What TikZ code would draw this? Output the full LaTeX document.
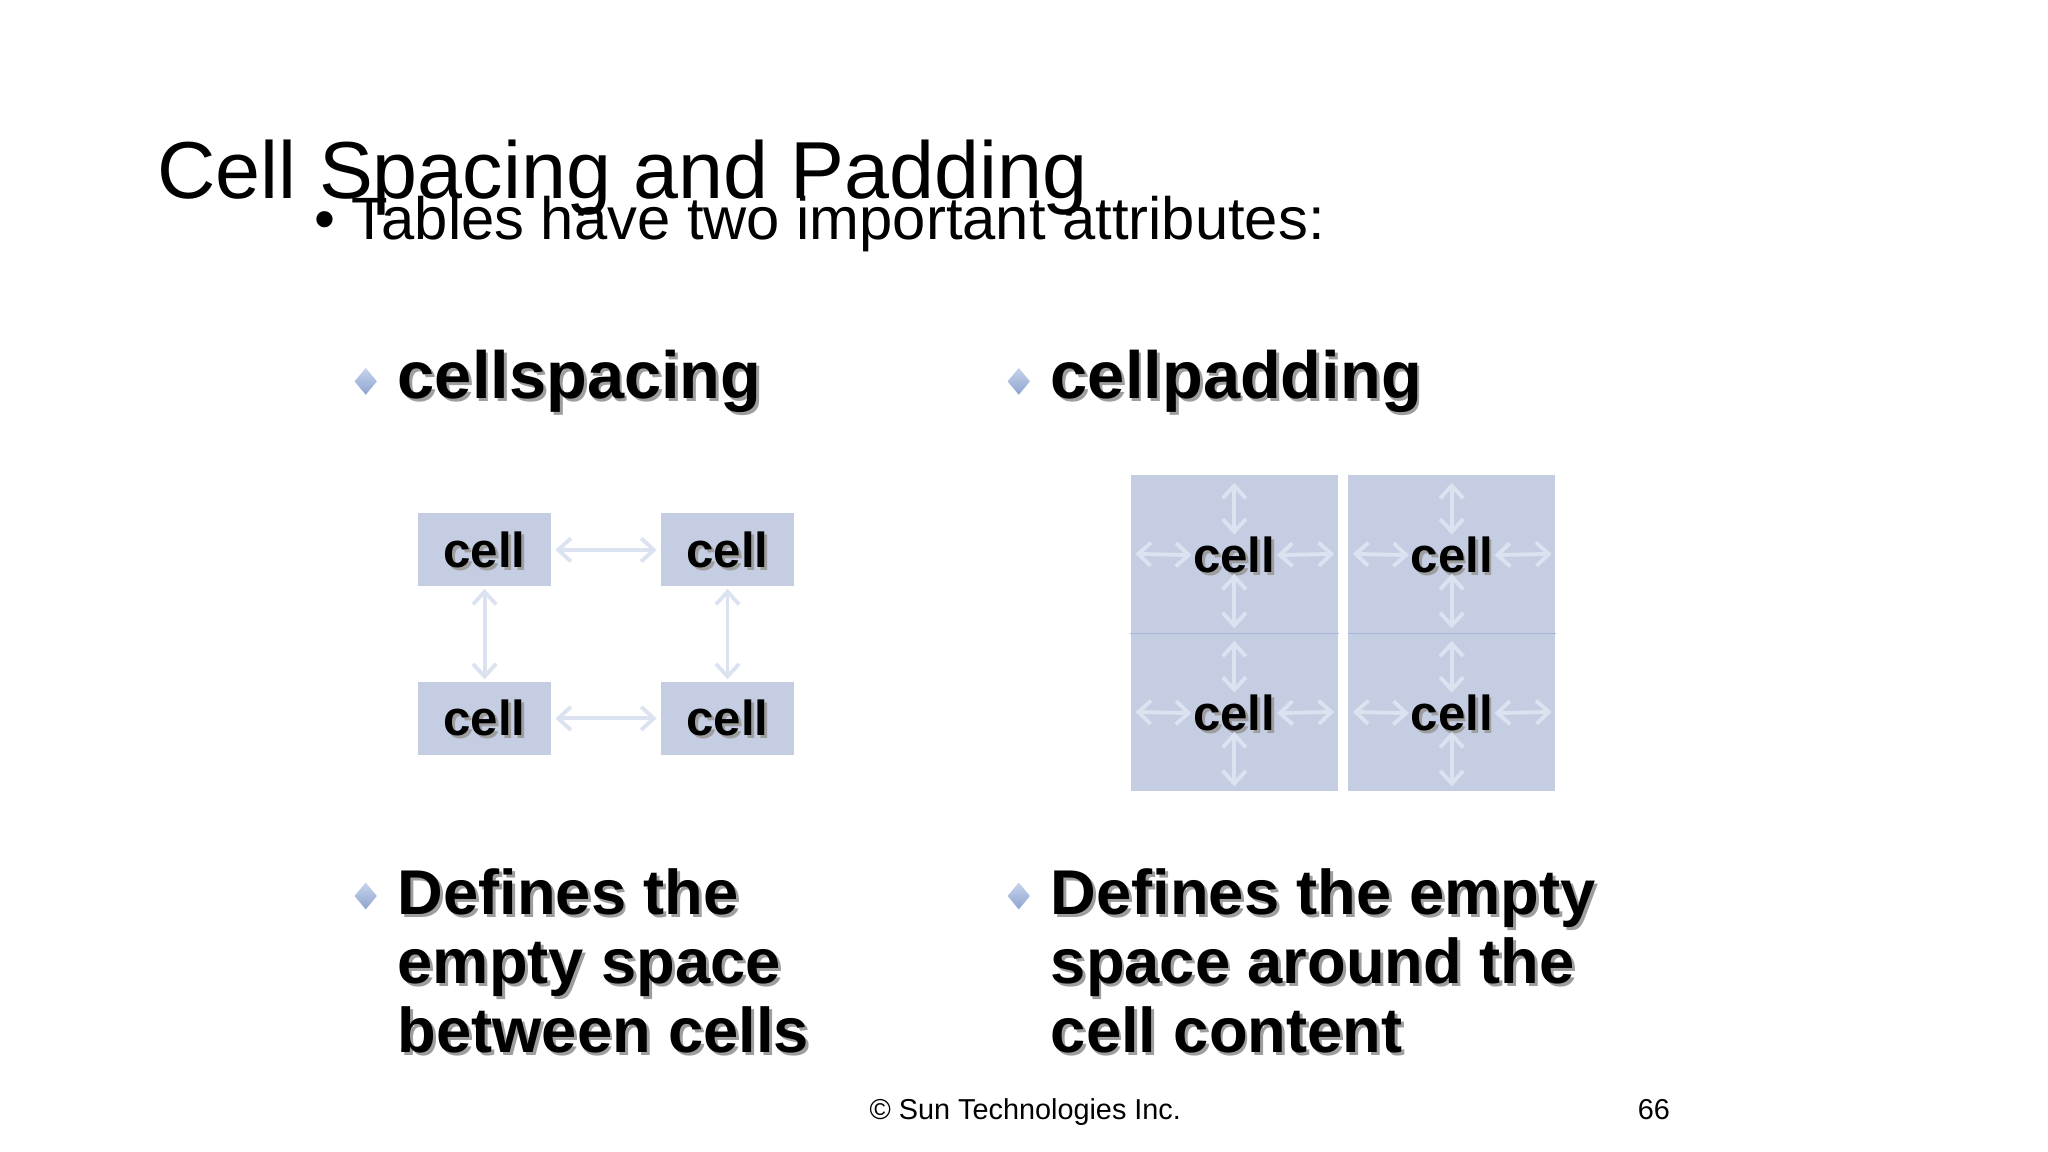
\documentclass[tikz,border=0pt]{standalone}
\usepackage{fontspec}
\setmainfont{Liberation Sans}
\usepackage{tikz}
\usetikzlibrary{arrows.meta,
				shapes.geometric}
\definecolor{cellfill}{HTML}{C4CDE2}
\definecolor{gapline}{HTML}{DCE3F0}
\definecolor{rowline}{HTML}{A9B8DA}
\definecolor{gemtop}{HTML}{C6D3EC}
\definecolor{gembot}{HTML}{8EA4CF}
\definecolor{shadowc}{gray}{0.62}
\tikzset{
	heading/.style={font=\fontsize{19}{23}\selectfont\bfseries, anchor=base west, inner sep=0},
	body/.style={font=\fontsize{18}{20}\selectfont\bfseries, anchor=base west, inner sep=0},
	celltext/.style={font=\fontsize{14}{16}\selectfont\bfseries, inner sep=0},
	cellbox/.style={fill=cellfill, inner sep=0, minimum width=37.9pt, minimum height=20.8pt},
	padbox/.style={fill=cellfill, inner sep=0, minimum width=58.9pt, minimum height=45pt},
	gap/.style={draw=gapline, line width=1.1pt, {Straight Barb[length=3.6pt,width=6.6pt]}-{Straight Barb[length=3.6pt,width=6.6pt]}},
	gem/.style={diamond, inner sep=0, minimum width=6.5pt, minimum height=7.8pt, top color=gemtop, bottom color=gembot}
}
% bold texts, drawn twice: once as shadow, once black
\newcommand{\boldtexts}[1]{%
	\node[heading] (#1head1) at (304,305) {cellspacing};
	\node[heading] (#1head2) at (804,305) {cellpadding};
	\foreach \l [count=\i] in {Defines the, empty space, between cells}
		\node[body] (#1left\i) at (304,647+53*\i) {\l};
	\foreach \l [count=\i] in {Defines the empty, space around the, cell content}
		\node[body] (#1right\i) at (804,647+53*\i) {\l};
	\foreach \c/\x/\y in {c11/371/421, c12/557/421, c21/371/550, c22/557/550,
		p11/945/425, p12/1111.5/425, p21/945/546, p22/1111.5/546}
		\node[celltext] (#1\c) at (\x,\y) {cell};
}

\begin{document}
\begin{tikzpicture}[x=0.013061cm, y=-0.013061cm]
	\useasboundingbox[fill=white] (0,0) rectangle (1568,882);
	\node[font=\fontsize{23}{27}\selectfont, anchor=base west, inner sep=0] (title) at (120,152) {Cell Spacing and Padding};
	\node[font=\fontsize{17}{20}\selectfont, anchor=base west, inner sep=0] (intro) at (240,183) {\textbullet\ Tables have two important attributes:};
	% cells
	\node[cellbox] (c11) at (371,421) {};
	\node[cellbox] (c12) at (557,421) {};
	\node[cellbox] (c21) at (371,550) {};
	\node[cellbox] (c22) at (557,550) {};
	\node[padbox] (p11) at (945,424) {};
	\node[padbox] (p12) at (1111.5,424) {};
	\node[padbox] (p21) at (945,545) {};
	\node[padbox] (p22) at (1111.5,545) {};
	\draw[rowline, line width=0.45pt] (p11.south west) -- (p11.south east);
	\draw[rowline, line width=0.45pt] (p12.south west) -- (p12.south east);
	% bullets
	\foreach \x/\y [count=\i] in {280/292, 780/292, 280/686, 780/686}
		\node[gem] (gem\i) at (\x,\y) {};
	\begin{scope}[shift={(2.2,2.2)}, every node/.append style={text=shadowc}]
		\boldtexts{s}
	\end{scope}
	\boldtexts{t}
	% spacing arrows
	\draw[gap, shorten <=1pt, shorten >=1pt] (c11) -- (c12);
	\draw[gap, shorten <=1pt, shorten >=1pt] (c21) -- (c22);
	\draw[gap, shorten <=0.5pt, shorten >=0.5pt] (c11) -- (c21);
	\draw[gap, shorten <=0.5pt, shorten >=0.5pt] (c12) -- (c22);
	% padding arrows
	\foreach \n in {p11,p12,p21,p22} {
		\draw[gap, shorten <=2.5pt, shorten >=0.5pt] (\n.north) -- (t\n.north);
		\draw[gap, shorten >=1.5pt] (t\n.south) -- (\n.south);
		\draw[gap, shorten <=1.5pt, shorten >=0.3pt] (\n.west) -- (t\n.west);
		\draw[gap, shorten <=0.3pt, shorten >=1.2pt] (t\n.east) -- (\n.east);
	}
	\node[font=\fontsize{8.2}{10}\selectfont, anchor=base, inner sep=0] (footer) at (785,857) {© Sun Technologies Inc.};
	\node[font=\fontsize{8.2}{10}\selectfont, anchor=base east, inner sep=0] (pageno) at (1279,857) {66};
\end{tikzpicture}
\end{document}
